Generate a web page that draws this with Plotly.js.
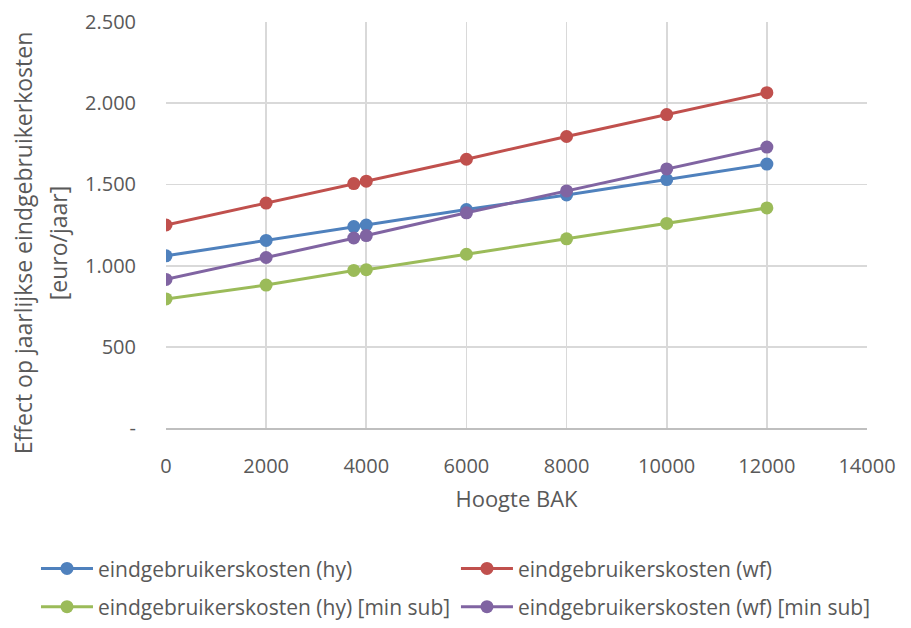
<!DOCTYPE html>
<html>
<head>
<meta charset="utf-8">
<script src="https://cdn.plot.ly/plotly-3.0.1.min.js"></script>
<style>
  html, body { margin: 0; padding: 0; background: #fff; }
  #chart { width: 911px; height: 628px; }
</style>
</head>
<body>
<div id="chart"></div>
<script>
// Hoogte BAK (x) and yearly end-user cost effect per scenario
const hoogteBAK = [0, 2000, 3750, 4000, 6000, 8000, 10000, 12000];
const kostenHy = [1060, 1155, 1240, 1250, 1345, 1435, 1530, 1625];
const kostenWf = [1250, 1385, 1505, 1520, 1655, 1795, 1930, 2065];
const kostenHyMinSub = [795, 880, 970, 975, 1070, 1165, 1260, 1355];
const kostenWfMinSub = [915, 1050, 1170, 1185, 1325, 1460, 1595, 1730];

const seriesNames = [
  'eindgebruikerskosten (hy)',
  'eindgebruikerskosten (wf)',
  'eindgebruikerskosten (hy) [min sub]',
  'eindgebruikerskosten (wf) [min sub]'
];
const seriesColors = ['#4f81bd', '#c0504d', '#9bbb59', '#8064a2'];

const yTickVals = [0, 500, 1000, 1500, 2000, 2500];
const yTickText = ['-', '500', '1.000', '1.500', '2.000', '2.500'];
const xTickVals = [0, 2000, 4000, 6000, 8000, 10000, 12000, 14000];

const FONT = '"Open Sans", "Liberation Sans", sans-serif';
const GREY = '#595959';

const legendIds = ['legend', 'legend2', 'legend3', 'legend4'];

function series(y, i) {
  return {
    x: hoogteBAK,
    y: y,
    name: seriesNames[i],
    type: 'scatter',
    mode: 'lines+markers',
    line: { color: seriesColors[i], width: 3 },
    marker: { color: seriesColors[i], size: 13 },
    legend: legendIds[i]
  };
}

const data = [
  series(kostenHy, 0),
  series(kostenWf, 1),
  series(kostenHyMinSub, 2),
  series(kostenWfMinSub, 3)
];

// one legend box per entry, laid out as a 2x2 grid under the plot
function legendBox(x, y) {
  return {
    orientation: 'h',
    xref: 'container', yref: 'container',
    x: x, y: y, xanchor: 'left', yanchor: 'top',
    font: { family: FONT, size: 21, color: GREY },
    itemwidth: 52,
    bgcolor: 'rgba(0,0,0,0)'
  };
}
const colX = [0.0395, 0.5005];
const rowY = [0.127, 0.066];

const layout = {
  width: 911,
  height: 628,
  margin: { l: 166, r: 44, t: 22, b: 200 },
  paper_bgcolor: '#ffffff',
  plot_bgcolor: '#ffffff',
  font: { family: FONT, color: GREY },
  xaxis: {
    range: [0, 14000],
    tickvals: xTickVals,
    ticktext: xTickVals.map(String),
    showgrid: true,
    gridcolor: '#d9d9d9',
    gridwidth: 1.8,
    zeroline: false,
    showline: true,
    linecolor: '#bfbfbf',
    linewidth: 1.8,
    ticks: '',
    ticklabelstandoff: 19,
    tickfont: { family: FONT, size: 20, color: GREY },
    title: { text: 'Hoogte BAK', font: { family: FONT, size: 22, color: GREY }, standoff: 14 }
  },
  yaxis: {
    range: [0, 2500],
    tickvals: yTickVals,
    ticktext: yTickText,
    showgrid: true,
    gridcolor: '#d9d9d9',
    gridwidth: 1.8,
    zeroline: false,
    showline: false,
    ticks: '',
    ticklabelstandoff: 29,
    tickfont: { family: FONT, size: 20, color: GREY }
  },
  legend: legendBox(colX[0], rowY[0]),
  legend2: legendBox(colX[1], rowY[0]),
  legend3: legendBox(colX[0], rowY[1]),
  legend4: legendBox(colX[1], rowY[1]),
  annotations: [
    {
      text: 'Effect op jaarlijkse eindgebruikerkosten',
      xref: 'paper', yref: 'paper', x: 0, y: 0.455,
      xanchor: 'center', yanchor: 'middle', xshift: -143,
      textangle: -90, showarrow: false,
      font: { family: FONT, size: 23, color: GREY }
    },
    {
      text: '[euro/jaar]',
      xref: 'paper', yref: 'paper', x: 0, y: 0.455,
      xanchor: 'center', yanchor: 'middle', xshift: -108,
      textangle: -90, showarrow: false,
      font: { family: FONT, size: 23, color: GREY }
    }
  ],
  showlegend: true
};

Plotly.newPlot('chart', data, layout, { displayModeBar: false, staticPlot: true });
</script>
</body>
</html>
